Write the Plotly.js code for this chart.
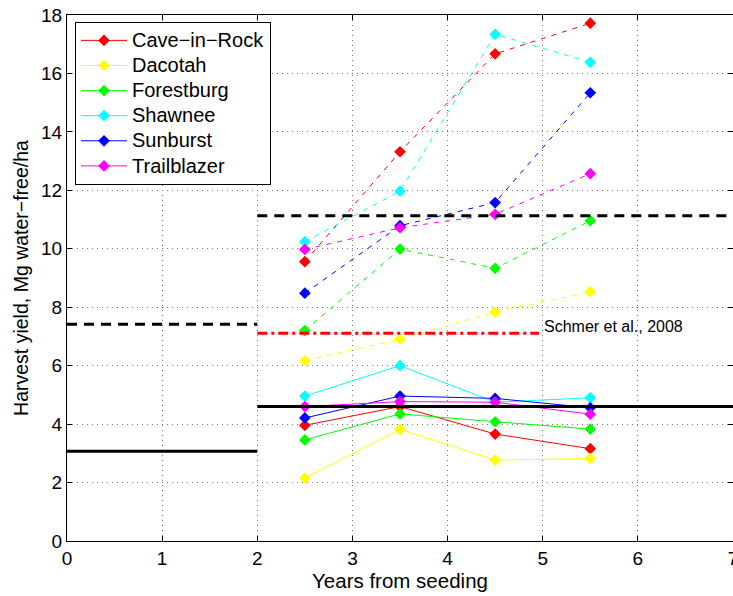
<!DOCTYPE html>
<html>
<head>
<meta charset="utf-8">
<script src="https://cdn.plot.ly/plotly-3.0.1.min.js"></script>
<style>html,body{margin:0;padding:0;background:#fff}#chart{width:733px;height:596px}</style>
</head>
<body>
<div id="chart"></div>
<script>
// Years from seeding
const years = [2.5, 3.5, 4.5, 5.5];
const cultivars = ["Cave\u2212in\u2212Rock", "Dacotah", "Forestburg", "Shawnee", "Sunburst", "Trailblazer"];
const colors = ["#ff0000", "#ffff00", "#00ff00", "#00ffff", "#0000ff", "#ff00ff"];

// Upper (dashed) series
const upperCaveInRock = [9.56, 13.32, 16.67, 17.72];
const upperDacotah    = [6.17, 6.91, 7.83, 8.53];
const upperForestburg = [7.20, 9.99, 9.33, 10.96];
const upperShawnee    = [10.24, 11.97, 17.34, 16.38];
const upperSunburst   = [8.48, 10.79, 11.58, 15.34];
const upperTrailblazer= [9.98, 10.72, 11.18, 12.57];

// Lower (solid) series
const lowerCaveInRock = [3.96, 4.60, 3.66, 3.16];
const lowerDacotah    = [2.15, 3.82, 2.77, 2.82];
const lowerForestburg = [3.46, 4.35, 4.08, 3.83];
const lowerShawnee    = [4.96, 6.00, 4.75, 4.90];
const lowerSunburst   = [4.21, 4.96, 4.88, 4.56];
const lowerTrailblazer= [4.60, 4.77, 4.75, 4.34];

const upper = [upperCaveInRock, upperDacotah, upperForestburg, upperShawnee, upperSunburst, upperTrailblazer];
const lower = [lowerCaveInRock, lowerDacotah, lowerForestburg, lowerShawnee, lowerSunburst, lowerTrailblazer];

// Reference levels
const earlyRangeX = [0, 2];
const lateRangeX = [2, 7];
const earlyHigh = 7.42;
const earlyLow = 3.07;
const lateHigh = 11.13;
const lateLow = 4.60;
const schmerRangeX = [2, 4.96];
const schmerLevel = 7.11;
const schmerLabel = "Schmer et al., 2008";

const traces = [];
cultivars.forEach((name, i) => {
  traces.push({
    x: years, y: lower[i], type: "scatter", mode: "lines+markers",
    name: '<span style="font-size:20px">' + name + '</span>',
    line: {color: colors[i], width: 1},
    marker: {symbol: "diamond", size: 9, color: colors[i]},
    showlegend: true
  });
});
cultivars.forEach((name, i) => {
  traces.push({
    x: years, y: upper[i], type: "scatter", mode: "lines+markers", name: name,
    line: {color: colors[i], width: 1, dash: "5px,6px"},
    marker: {symbol: "diamond", size: 9, color: colors[i]},
    showlegend: false
  });
});
function hline(xr, yv, dash, color) {
  return {x: xr, y: [yv, yv], type: "scatter", mode: "lines", showlegend: false, hoverinfo: "skip",
    line: {color: color, width: 3, dash: dash}};
}
traces.push(hline(earlyRangeX, earlyHigh, "10px,7px", "#000"));
traces.push(hline(earlyRangeX, earlyLow, "solid", "#000"));
traces.push(hline(lateRangeX, lateHigh, "10px,7px", "#000"));
traces.push(hline(lateRangeX, lateLow, "solid", "#000"));
traces.push(hline(schmerRangeX, schmerLevel, "10px,4px,3px,4px", "#ff0000"));

const axisCommon = {
  showline: true, linecolor: "#000", linewidth: 1, mirror: "ticks",
  ticks: "inside", ticklen: 5, tickcolor: "#000",
  showgrid: true, gridcolor: "#777", gridwidth: 1, griddash: "1px,4px",
  zeroline: false, tickfont: {size: 19, color: "#000"}, ticklabeloverflow: "allow"
};

const layout = {
  width: 733, height: 596,
  margin: {l: 67, r: 0, t: 15, b: 55},
  paper_bgcolor: "#fff", plot_bgcolor: "#fff",
  font: {family: "Liberation Sans, Arial, sans-serif", color: "#000"},
  xaxis: Object.assign({}, axisCommon, {range: [0, 7], dtick: 1,
    title: {text: "Years from seeding", font: {size: 20.5}, standoff: 2}}),
  yaxis: Object.assign({}, axisCommon, {range: [0, 18], dtick: 2,
    title: {text: "Harvest yield, Mg water\u2212free/ha", font: {size: 19.5}, standoff: 7}}),
  legend: {x: 0.012, y: 0.987, xanchor: "left", yanchor: "top",
    bgcolor: "#fff", bordercolor: "#000", borderwidth: 1, itemwidth: 46,
    font: {size: 17, color: "#000"}},
  annotations: [{x: 4.99, y: 7.33, xref: "x", yref: "y",
    text: schmerLabel, showarrow: false, xanchor: "left", yanchor: "middle",
    font: {size: 16, color: "#000"}}],
  showlegend: true
};

Plotly.newPlot("chart", traces, layout, {displayModeBar: false, staticPlot: true});
</script>
</body>
</html>
